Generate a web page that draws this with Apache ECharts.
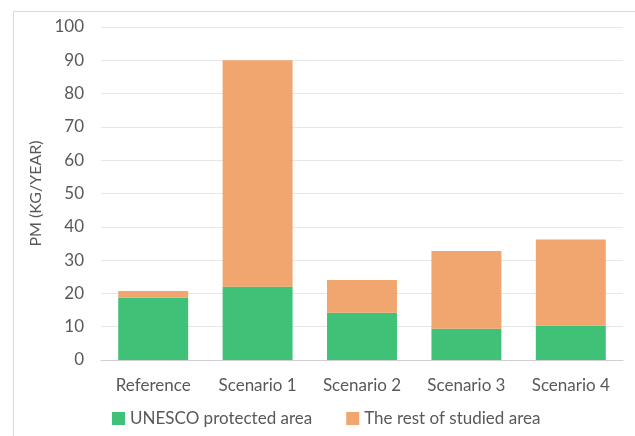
<!DOCTYPE html>
<html><head><meta charset="utf-8">
<script src="https://cdn.jsdelivr.net/npm/echarts@6/dist/echarts.min.js"></script>
<style>html,body{margin:0;padding:0;background:#fff}#c{width:635px;height:436px}</style>
</head><body><div id="c"></div>
<script>
var categories = ['Reference', 'Scenario 1', 'Scenario 2', 'Scenario 3', 'Scenario 4'];
var unesco = [18.7, 22, 14.2, 9.4, 10.3];
var rest = [2.0, 68, 9.8, 23.3, 25.9];
var seriesNames = ['UNESCO protected area', 'The rest of studied area'];
var yTicks = { min: 0, max: 100, interval: 10 };

var chart = echarts.init(document.getElementById('c'));
var font = 'Lato, "Open Sans", sans-serif';
chart.setOption({
  animation: false,
  textStyle: { fontFamily: font },
  graphic: [{ type: 'rect', shape: { x: 13.5, y: 11.5, width: 640, height: 440 }, style: { fill: 'none', stroke: '#d9d9d9', lineWidth: 1 }, silent: true }],
  grid: { left: 101, right: 12, top: 27, bottom: 76 },
  legend: {
    bottom: 4, left: 107, itemWidth: 13, itemHeight: 13, itemGap: 34,
    icon: 'rect',
    textStyle: { fontSize: 17, color: '#595959', fontFamily: font },
    data: seriesNames
  },
  xAxis: {
    type: 'category', data: categories,
    axisLine: { lineStyle: { color: '#d0d0d0', width: 1 } },
    axisTick: { show: false },
    axisLabel: { fontSize: 17, color: '#595959', margin: 17, fontFamily: font }
  },
  yAxis: {
    type: 'value', min: yTicks.min, max: yTicks.max, interval: yTicks.interval,
    name: 'PM (KG/YEAR)', nameLocation: 'middle', nameGap: 46, nameRotate: 90,
    nameTextStyle: { fontSize: 16, color: '#595959', fontFamily: font },
    axisLine: { show: false }, axisTick: { show: false },
    axisLabel: { fontSize: 17, color: '#595959', margin: 17, fontFamily: font },
    splitLine: { lineStyle: { color: '#e6e6e6', width: 1 } }
  },
  series: [
    { name: seriesNames[0], type: 'bar', stack: 'a', data: unesco, barWidth: '67%', itemStyle: { color: '#2fbd6b', opacity: 0.92 } },
    { name: seriesNames[1], type: 'bar', stack: 'a', data: rest, barWidth: '67%', itemStyle: { color: '#ef9e62', opacity: 0.92 } }
  ]
});
</script></body></html>
